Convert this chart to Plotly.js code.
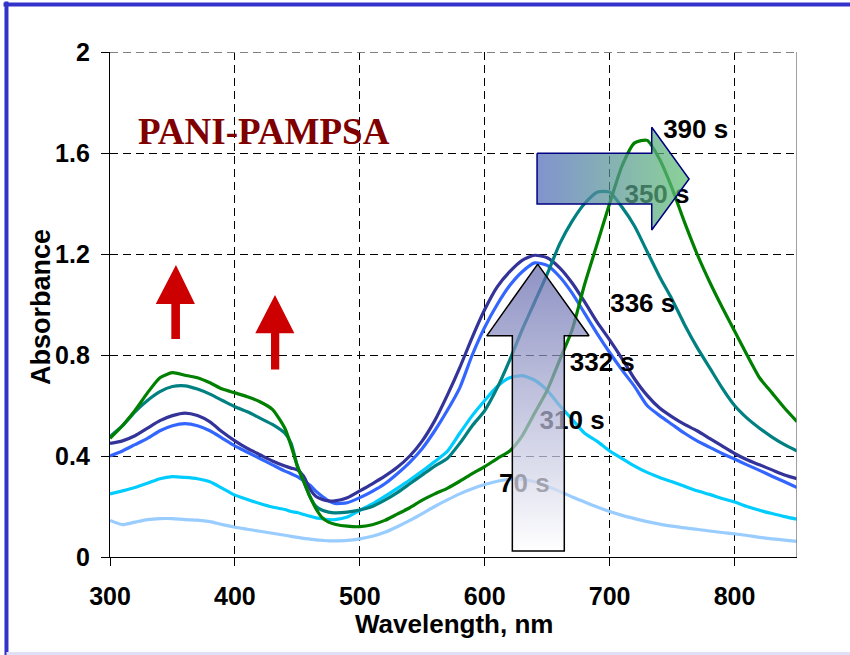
<!DOCTYPE html>
<html>
<head>
<meta charset="utf-8">
<script src="https://cdn.plot.ly/plotly-3.0.1.min.js"></script>
<style>html,body{margin:0;padding:0;background:#fff;}#chart{width:850px;height:655px;}</style>
</head>
<body>
<div id="chart"></div>
<script>
// Wavelength grid (nm)
const wavelength = [300,310,320,330,340,350,360,370,380,390,400,410,420,430,440,445,450,455,460,465,470,475,480,490,500,510,520,530,540,550,560,570,580,590,600,610,620,630,640,650,660,670,680,690,700,710,720,730,740,750,760,770,780,790,800,810,820,830,840,850];

// Absorbance series
const abs70s = [0.145,0.128,0.138,0.148,0.152,0.152,0.148,0.146,0.140,0.128,0.118,0.110,0.102,0.094,0.086,0.082,0.078,0.074,0.071,0.068,0.066,0.064,0.064,0.066,0.072,0.082,0.098,0.120,0.145,0.172,0.200,0.226,0.250,0.270,0.287,0.300,0.308,0.308,0.298,0.280,0.260,0.238,0.218,0.198,0.180,0.165,0.152,0.140,0.130,0.122,0.115,0.110,0.103,0.097,0.092,0.085,0.078,0.072,0.067,0.062];
const abs310s = [0.250,0.262,0.275,0.292,0.310,0.318,0.315,0.310,0.298,0.272,0.245,0.228,0.212,0.198,0.188,0.180,0.176,0.168,0.162,0.155,0.152,0.148,0.148,0.158,0.185,0.210,0.240,0.272,0.305,0.340,0.378,0.418,0.490,0.560,0.620,0.675,0.710,0.718,0.700,0.660,0.600,0.545,0.490,0.458,0.420,0.390,0.360,0.335,0.315,0.298,0.280,0.262,0.248,0.232,0.218,0.200,0.185,0.172,0.160,0.150];
const abs332s = [0.400,0.420,0.445,0.470,0.500,0.520,0.528,0.520,0.500,0.470,0.440,0.415,0.390,0.365,0.340,0.330,0.318,0.302,0.285,0.260,0.240,0.222,0.212,0.215,0.235,0.260,0.290,0.330,0.375,0.430,0.500,0.580,0.670,0.800,0.910,1.000,1.075,1.130,1.165,1.155,1.110,1.045,0.965,0.885,0.810,0.740,0.675,0.600,0.560,0.525,0.490,0.460,0.435,0.410,0.388,0.365,0.343,0.320,0.298,0.275];
const abs336s = [0.450,0.460,0.480,0.510,0.540,0.560,0.570,0.560,0.535,0.495,0.460,0.430,0.405,0.380,0.360,0.352,0.345,0.320,0.270,0.240,0.228,0.222,0.222,0.235,0.262,0.290,0.320,0.355,0.400,0.460,0.540,0.640,0.750,0.870,0.980,1.070,1.130,1.175,1.195,1.185,1.145,1.085,1.010,0.930,0.860,0.785,0.705,0.640,0.590,0.555,0.525,0.500,0.470,0.440,0.410,0.385,0.365,0.345,0.325,0.310];
const abs350s = [0.477,0.520,0.575,0.620,0.655,0.675,0.678,0.665,0.645,0.620,0.595,0.575,0.550,0.525,0.490,0.450,0.360,0.300,0.240,0.200,0.185,0.178,0.175,0.178,0.186,0.200,0.225,0.255,0.290,0.325,0.360,0.390,0.450,0.520,0.580,0.670,0.780,0.900,1.010,1.120,1.240,1.330,1.400,1.445,1.445,1.385,1.310,1.210,1.110,1.020,0.920,0.830,0.750,0.670,0.600,0.550,0.510,0.475,0.445,0.420];
const abs390s = [0.470,0.520,0.580,0.650,0.710,0.730,0.720,0.710,0.690,0.665,0.650,0.635,0.615,0.585,0.510,0.440,0.360,0.300,0.240,0.190,0.155,0.138,0.130,0.122,0.120,0.128,0.145,0.170,0.195,0.225,0.250,0.272,0.300,0.330,0.358,0.390,0.420,0.480,0.570,0.660,0.780,0.900,1.080,1.240,1.400,1.550,1.640,1.650,1.575,1.460,1.325,1.200,1.090,0.990,0.895,0.800,0.710,0.650,0.590,0.536];

const seriesNames = ['70 s','310 s','332 s','336 s','350 s','390 s'];
const seriesValues = [abs70s, abs310s, abs332s, abs336s, abs350s, abs390s];
const seriesColors = ['#99ccff','#00ccff','#3366ff','#333399','#008080','#008000'];

// Curve labels
const labelText = ['70 s','310 s','332 s','336 s','350 s','390 s'];
const labelX = [631.7, 670, 694.1, 726.5, 737.9, 768.9];
const labelY = [0.283, 0.531, 0.762, 0.995, 1.4285, 1.684];

const xTicks = [300,400,500,600,700,800];
const yTicks = [0,0.4,0.8,1.2,1.6,2];
const yTickText = ['0','0.4','0.8','1.2','1.6','2'];

const boldFont = {family:'Liberation Sans, Arial, sans-serif', color:'#000', weight:'bold'};

const traces = [];
seriesValues.forEach((vals, i) => {
  traces.push({
    x: wavelength, y: vals, type:'scatter', mode:'lines', name: seriesNames[i],
    line:{color: seriesColors[i], width:3.2, shape:'spline', smoothing:0.6},
    hoverinfo:'skip', showlegend:false
  });
});
traces.push({
  x: labelX, y: labelY, text: labelText, type:'scatter', mode:'text',
  textposition:'middle center',
  textfont: Object.assign({size:26}, boldFont),
  hoverinfo:'skip', showlegend:false
});
// Decorative gradient arrows (drawn above curves and labels)
traces.push({
  x:[642.4,683.5,663.7,663.7,622.1,622.1,601.6,642.4],
  y:[1.160,0.876,0.876,0.024,0.024,0.876,0.876,1.160],
  type:'scatter', mode:'lines', fill:'toself',
  line:{color:'#000000', width:1.5},
  fillgradient:{type:'vertical', colorscale:[[0,'rgba(255,255,255,0.75)'],[1,'rgba(95,100,170,0.7)']]},
  hoverinfo:'skip', showlegend:false
});
traces.push({
  x:[641.9,733.7,733.7,763.6,733.7,733.7,641.9,641.9],
  y:[1.599,1.599,1.702,1.497,1.295,1.398,1.398,1.599],
  type:'scatter', mode:'lines', fill:'toself',
  line:{color:'#000080', width:1.5},
  fillgradient:{type:'horizontal', colorscale:[[0,'rgba(80,105,186,0.72)'],[1,'rgba(93,192,111,0.72)']]},
  hoverinfo:'skip', showlegend:false
});

const layout = {
  width:850, height:655,
  margin:{l:110, r:53, t:52, b:98},
  paper_bgcolor:'#ffffff', plot_bgcolor:'#ffffff',
  showlegend:false,
  xaxis:{
    range:[300,850], tickvals:xTicks, ticks:'outside', ticklen:8, tickcolor:'#000', tickwidth:1,
    showline:true, linecolor:'#000', linewidth:1.2,
    showgrid:true, gridcolor:'#000', gridwidth:1, griddash:'8px,5px',
    zeroline:false, ticklabelstandoff:9,
    tickfont: Object.assign({size:25}, boldFont)
  },
  yaxis:{
    range:[0,2], tickvals:yTicks, ticktext:yTickText, ticks:'outside', ticklen:8, tickcolor:'#000', tickwidth:1,
    showline:true, linecolor:'#000', linewidth:1.2,
    showgrid:true, gridcolor:'#000', gridwidth:1, griddash:'8px,5px',
    zeroline:false, ticklabelstandoff:6,
    tickfont: Object.assign({size:25}, boldFont)
  },
  annotations:[
    {
      text:'PANI-PAMPSA', x:423.1, y:1.684, xref:'x', yref:'y', showarrow:false,
      xanchor:'center', yanchor:'middle',
      font:{family:'Liberation Serif, Times New Roman, serif', size:37, color:'#800000', weight:'bold'}
    },
    {
      text:'Wavelength, nm', x:0.5, y:-0.133, xref:'paper', yref:'paper', showarrow:false,
      xanchor:'center', yanchor:'middle', font: Object.assign({size:26}, boldFont)
    },
    {
      text:'Absorbance', x:-0.1004, y:0.495, xref:'paper', yref:'paper', showarrow:false,
      textangle:-90, xanchor:'center', yanchor:'middle', font: Object.assign({size:27}, boldFont)
    }
  ],
  shapes:[
    {type:'line', xref:'x', yref:'y', x0:300, x1:850, y0:2, y1:2, line:{color:'#808080', width:2, dash:'8px,5px'}, layer:'above'},
    {type:'line', xref:'x', yref:'y', x0:850, x1:850, y0:0, y1:2, line:{color:'#808080', width:1.5}, layer:'above'},
    {type:'path', xref:'x', yref:'y', path:'M 352.8,1.156 L 368,1.002 L 356,1.002 L 356,0.863 L 349.1,0.863 L 349.1,1.002 L 336.6,1.002 Z', fillcolor:'#cc0000', line:{width:0}, layer:'above'},
    {type:'path', xref:'x', yref:'y', path:'M 432.1,1.038 L 447.6,0.886 L 435.5,0.886 L 435.5,0.743 L 428.9,0.743 L 428.9,0.886 L 416.3,0.886 Z', fillcolor:'#cc0000', line:{width:0}, layer:'above'},
    {type:'line', xref:'paper', yref:'paper', x0:-0.1507, x1:-0.1507, y0:-0.2, y1:1.1, line:{color:'#3333cc', width:4}, layer:'above'},
    {type:'line', xref:'paper', yref:'paper', x0:-0.155, x1:1.1, y0:1.094, y1:1.094, line:{color:'#3333cc', width:4}, layer:'above'},
    {type:'line', xref:'paper', yref:'paper', x0:-0.1507, x1:1.1, y0:-0.191, y1:-0.191, line:{color:'#e0e0f6', width:3}, layer:'above'}
  ]
};

Plotly.newPlot('chart', traces, layout, {displayModeBar:false, staticPlot:true});
</script>
</body>
</html>
